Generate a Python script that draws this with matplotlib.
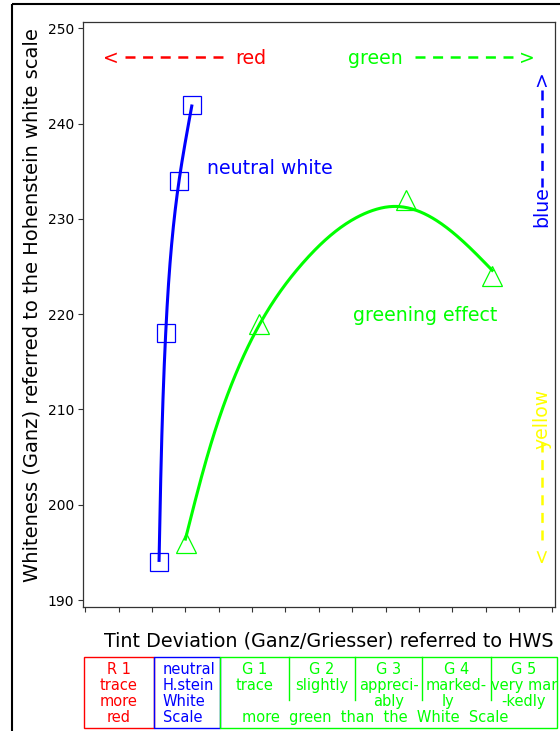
import numpy as np
import matplotlib
matplotlib.use("Agg")
import matplotlib.pyplot as plt
from matplotlib.patches import Rectangle

plt.rcParams["font.family"] = ["DejaVu Sans"]
plt.rcParams["lines.scale_dashes"] = False

# ---------------- data ----------------
# measured points (markers)
neutral_x = [2.21, 2.41, 2.81, 3.20]
neutral_y = [194, 218, 234, 242]
green_x = [3.01, 5.22, 9.60, 12.20]
green_y = [196, 219, 232, 224]
# smoothed "greening effect" curve
green_curve_x = [2.99, 3.64, 4.44, 5.22, 6.44, 7.43, 8.53, 9.30, 10.63, 11.58, 12.23]
green_curve_y = [196.0, 205.2, 213.1, 218.9, 225.0, 228.5, 230.75, 231.35, 229.6, 226.8, 224.45]
y_ticks = [190, 200, 210, 220, 230, 240, 250]
x_ticks = list(range(0, 15))
table_columns = [
    ["R 1", "trace", "more", "red"],
    ["neutral", "H.stein", "White", "Scale"],
    ["G 1", "trace"],
    ["G 2", "slightly"],
    ["G 3", "appreci-", "ably"],
    ["G 4", "marked-", "ly"],
    ["G 5", "very mar", "-kedly"],
]
table_note = "more  green  than  the  White  Scale"
ylabel = "Whiteness (Ganz) referred to the Hohenstein white scale"
xlabel = "Tint Deviation (Ganz/Griesser) referred to HWS"

RED, BLUE, GREEN, YELLOW = "#ff0000", "#0000ff", "#00ff00", "#ffff00"


def smoothing_spline(t, v, lam, ts):
    """Natural cubic smoothing spline (Reinsch); lam=0 interpolates."""
    t = np.asarray(t, float)
    v = np.asarray(v, float)
    n = len(t)
    h = np.diff(t)
    Q = np.zeros((n, n - 2))
    R = np.zeros((n - 2, n - 2))
    for j in range(n - 2):
        Q[j, j] = 1 / h[j]
        Q[j + 1, j] = -1 / h[j] - 1 / h[j + 1]
        Q[j + 2, j] = 1 / h[j + 1]
        R[j, j] = (h[j] + h[j + 1]) / 3
        if j < n - 3:
            R[j, j + 1] = R[j + 1, j] = h[j + 1] / 6
    gam = np.linalg.solve(R + lam * Q.T @ Q, Q.T @ v)
    g = v - lam * Q @ gam
    G = np.concatenate([[0.0], gam, [0.0]])
    ts = np.asarray(ts, float)
    idx = np.clip(np.searchsorted(t, ts) - 1, 0, n - 2)
    a = ts - t[idx]
    b = t[idx + 1] - ts
    hh = h[idx]
    return ((a * g[idx + 1] + b * g[idx]) / hh
            - a * b / 6 * ((1 + a / hh) * G[idx + 1] + (1 + b / hh) * G[idx]))


W, H = 560, 731
fig = plt.figure(figsize=(W / 100, H / 100), dpi=100)
ax = fig.add_axes([82.7 / W, 1 - 607 / H, (555 - 82.7) / W, (607 - 21.7) / H])
ax.set_xlim(-0.078, 14.08)
ax.set_ylim(189.27, 250.69)
for s in ax.spines.values():
    s.set_color("#333333")
    s.set_linewidth(0.9)
ax.set_xticks(x_ticks)
ax.set_yticks(y_ticks)
ax.tick_params(axis="both", direction="out", length=3.6, width=0.8,
               color="#333333", labelsize=10, pad=2.4)
ax.tick_params(axis="x", labelbottom=False)

ax.set_ylabel(ylabel, fontsize=14)
ax.yaxis.set_label_coords(-0.1076, 0.516)
ax.yaxis.label.set_va("center")
ax.set_xlabel(xlabel, fontsize=13.8)
ax.xaxis.set_label_coords(0.522, -0.0683)
ax.xaxis.label.set_va("baseline")

# neutral white: spline through the measured points (x as a function of y)
ys = np.linspace(min(neutral_y), max(neutral_y), 200)
xs = smoothing_spline(neutral_y, neutral_x, 0.0, ys)
ax.plot(xs, ys, color=BLUE, lw=2.2, solid_capstyle="butt")
ax.plot(neutral_x, neutral_y, "s", ms=13.5, mfc="none", mec=BLUE, mew=0.9)

# greening effect: smooth curve
gx = np.linspace(min(green_curve_x), max(green_curve_x), 300)
gy = smoothing_spline(green_curve_x, green_curve_y, 0.03, gx)
ax.plot(gx, gy, color=GREEN, lw=2.2, solid_capstyle="butt")
ax.plot(green_x, green_y, "^", ms=14, mfc="none", mec=GREEN, mew=0.9)

# direction annotations
fs = 13.6
dash = (7.2, 5.47)
ax.text(0.755, 246.25, "<", color=RED, fontsize=fs, ha="center", va="baseline")
ax.plot([1.19, 4.13], [247.02, 247.02], color=RED, lw=1.8, dashes=dash)
ax.text(4.50, 246.25, "red", color=RED, fontsize=fs, ha="left", va="baseline")

ax.text(7.875, 246.25, "green", color=GREEN, fontsize=fs, ha="left", va="baseline")
ax.plot([9.88, 12.82], [247.02, 247.02], color=GREEN, lw=1.8, dashes=dash)
ax.text(13.225, 246.25, ">", color=GREEN, fontsize=fs, ha="center", va="baseline")

xv = 13.68
ax.text(xv, 244.77, ">", color=BLUE, fontsize=fs, rotation=90,
        rotation_mode="anchor", ha="center", va="center")
ax.plot([xv, xv], [243.51, 233.34], color=BLUE, lw=1.8, dashes=dash)
ax.text(xv, 229.15, "blue", color=BLUE, fontsize=fs, rotation=90,
        rotation_mode="anchor", ha="left", va="center")

ax.text(xv, 212.19, "yellow", color=YELLOW, fontsize=fs, rotation=90,
        rotation_mode="anchor", ha="right", va="center")
ax.plot([xv, xv], [206.59, 195.99], color=YELLOW, lw=1.8, dashes=dash)
ax.text(xv, 194.82, "<", color=YELLOW, fontsize=fs, rotation=90,
        rotation_mode="anchor", ha="center", va="center")

ax.text(3.64, 234.7, "neutral white", color=BLUE, fontsize=fs, ha="left", va="baseline")
ax.text(8.02, 219.27, "greening effect", color=GREEN, fontsize=fs, ha="left", va="baseline")

# overlay in pixel coordinates: frame and table
tax = fig.add_axes([0, 0, 1, 1])
tax.set_xlim(0, W)
tax.set_ylim(H, 0)
tax.axis("off")
tax.patch.set_visible(False)
tax.plot([12, 12], [4, H], color="black", lw=1.5, solid_capstyle="butt", clip_on=False)
tax.plot([12, W], [4, 4], color="black", lw=1.5, solid_capstyle="butt", clip_on=False)

edges = [84, 154, 220, 289, 355, 422, 491, 557]
top, bot, div_bot = 657, 728, 700
tax.add_patch(Rectangle((edges[0], top), edges[1] - edges[0], bot - top,
                        fill=False, ec=RED, lw=1))
tax.add_patch(Rectangle((edges[1], top), edges[2] - edges[1], bot - top,
                        fill=False, ec=BLUE, lw=1))
tax.add_patch(Rectangle((edges[2], top), edges[7] - edges[2], bot - top,
                        fill=False, ec=GREEN, lw=1, clip_on=False))
for e in edges[3:7]:
    tax.plot([e, e], [top, div_bot], color=GREEN, lw=1)

baselines = [674.3, 690.2, 706.1, 722.0]
col_colors = [RED, BLUE, GREEN, GREEN, GREEN, GREEN, GREEN]
for i, (lines, c) in enumerate(zip(table_columns, col_colors)):
    for j, s in enumerate(lines):
        if i == 1:
            x, ha = 162.6, "left"
        else:
            x, ha = (edges[i] + edges[i + 1]) / 2, "center"
            if s == "ly":
                x = 448
        tax.text(x, baselines[j], s, color=c, fontsize=10.5, ha=ha, va="baseline")
tax.text(375, baselines[3], table_note, color=GREEN, fontsize=10.5,
         ha="center", va="baseline")

fig.savefig("out.png", dpi=100)
